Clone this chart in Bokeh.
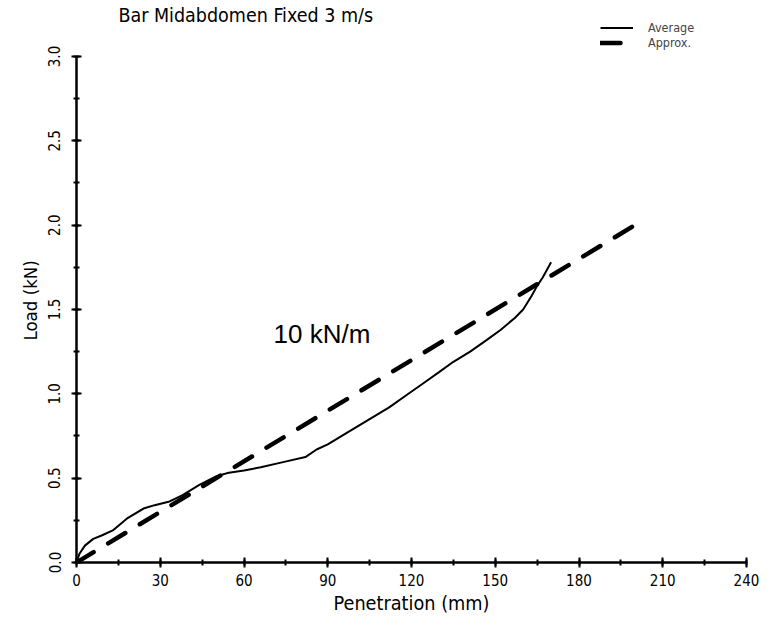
import math
from bokeh.plotting import figure
from bokeh.models import (Range1d, SingleIntervalTicker, PrintfTickFormatter,
                          Legend, LegendItem, Label, Title)
from bokeh.embed import file_html
from bokeh.resources import INLINE

# Averaged load-penetration response (penetration in mm, load in kN)
average_x = [0, 1, 3, 6, 9, 13, 18, 24, 28, 33, 38, 44, 50, 52, 54, 60, 66,
             74, 82, 86, 90, 98, 105, 112, 118, 124, 130, 135, 141, 147, 152,
             157, 160, 163, 165, 167, 170]
average_y = [0.0, 0.05, 0.10, 0.14, 0.16, 0.19, 0.26, 0.32, 0.34, 0.36, 0.40,
             0.46, 0.51, 0.52, 0.53, 0.545, 0.565, 0.595, 0.625, 0.67, 0.70,
             0.78, 0.85, 0.92, 0.99, 1.06, 1.13, 1.19, 1.25, 1.32, 1.38,
             1.45, 1.50, 1.58, 1.64, 1.69, 1.78]

# Linear approximation, 10 kN/m
approx_x = [0, 200]
approx_y = [0.0, 2.0]
stiffness_text = "10 kN/m"

title_text = "Bar Midabdomen Fixed 3 m/s"
x_label = "Penetration (mm)"
y_label = "Load (kN)"

NARROW = "DejaVu Sans Condensed, Liberation Sans, sans-serif"
REGULAR = "Liberation Sans, Arial, sans-serif"

# The frame reaches the top edge so the title and legend sit inside it;
# the y axis itself is bounded to 0..3 kN.
p = figure(width=769, height=620, output_backend="svg", toolbar_location=None,
           title=None,
           x_range=Range1d(0, 240), y_range=Range1d(0, 3.332),
           min_border_left=76, min_border_right=23,
           min_border_top=0, min_border_bottom=58)
p.outline_line_color = None
p.grid.visible = False
p.background_fill_color = "white"
p.border_fill_color = "white"

r_avg = p.line(average_x, average_y, line_color="black", line_width=2)
r_apx = p.line(approx_x, approx_y, line_color="black", line_width=4.5,
               line_dash="20 17", line_cap="round")

p.add_layout(Label(x=15.0, y=3.172, text=title_text, text_font=NARROW,
                   text_font_size="19.5px", text_color="black"))
p.add_layout(Label(x=70.6, y=1.263, text=stiffness_text, text_font=REGULAR,
                   text_font_size="26px", text_color="black"))

p.xaxis.ticker = SingleIntervalTicker(interval=30, num_minor_ticks=2)
p.yaxis.ticker = SingleIntervalTicker(interval=0.5, num_minor_ticks=2)
p.yaxis.formatter = PrintfTickFormatter(format="%.1f")
p.yaxis.major_label_orientation = "vertical"
p.yaxis.bounds = (0, 3.0)

for ax in (p.xaxis, p.yaxis):
    ax.axis_line_width = 2.5
    ax.axis_line_color = "black"
    ax.major_tick_line_width = 2
    ax.minor_tick_line_width = 2
    ax.major_tick_in = 5
    ax.major_tick_out = 5
    ax.minor_tick_in = 3
    ax.minor_tick_out = 3
    ax.major_label_text_font = NARROW
    ax.major_label_text_font_size = "15px"
    ax.major_label_text_color = "black"
    ax.axis_label_text_font = NARROW
    ax.axis_label_text_font_style = "normal"
    ax.axis_label_text_color = "black"

p.xaxis.axis_label = x_label
p.xaxis.axis_label_text_font_size = "19.7px"
p.xaxis.major_label_standoff = 6
p.xaxis.axis_label_standoff = 3
p.yaxis.major_label_standoff = 11

# y axis caption, kept level with the bounded 0..3 kN axis
y_title = Title(text=y_label, align="left", offset=222, standoff=10,
                text_font=NARROW, text_font_size="18.5px",
                text_font_style="normal", text_color="black")
p.add_layout(y_title, "left")

legend = Legend(items=[LegendItem(label="Average", renderers=[r_avg]),
                       LegendItem(label="Approx.", renderers=[r_apx])],
                location=(524, 512), orientation="vertical",
                label_text_font=NARROW, label_text_font_size="12.5px",
                label_height=15, glyph_height=15, glyph_width=33,
                label_standoff=15, spacing=0, padding=0, margin=0,
                border_line_alpha=0, background_fill_alpha=0)
p.add_layout(legend, "center")

open("out.html", "w").write(file_html(p, INLINE))
